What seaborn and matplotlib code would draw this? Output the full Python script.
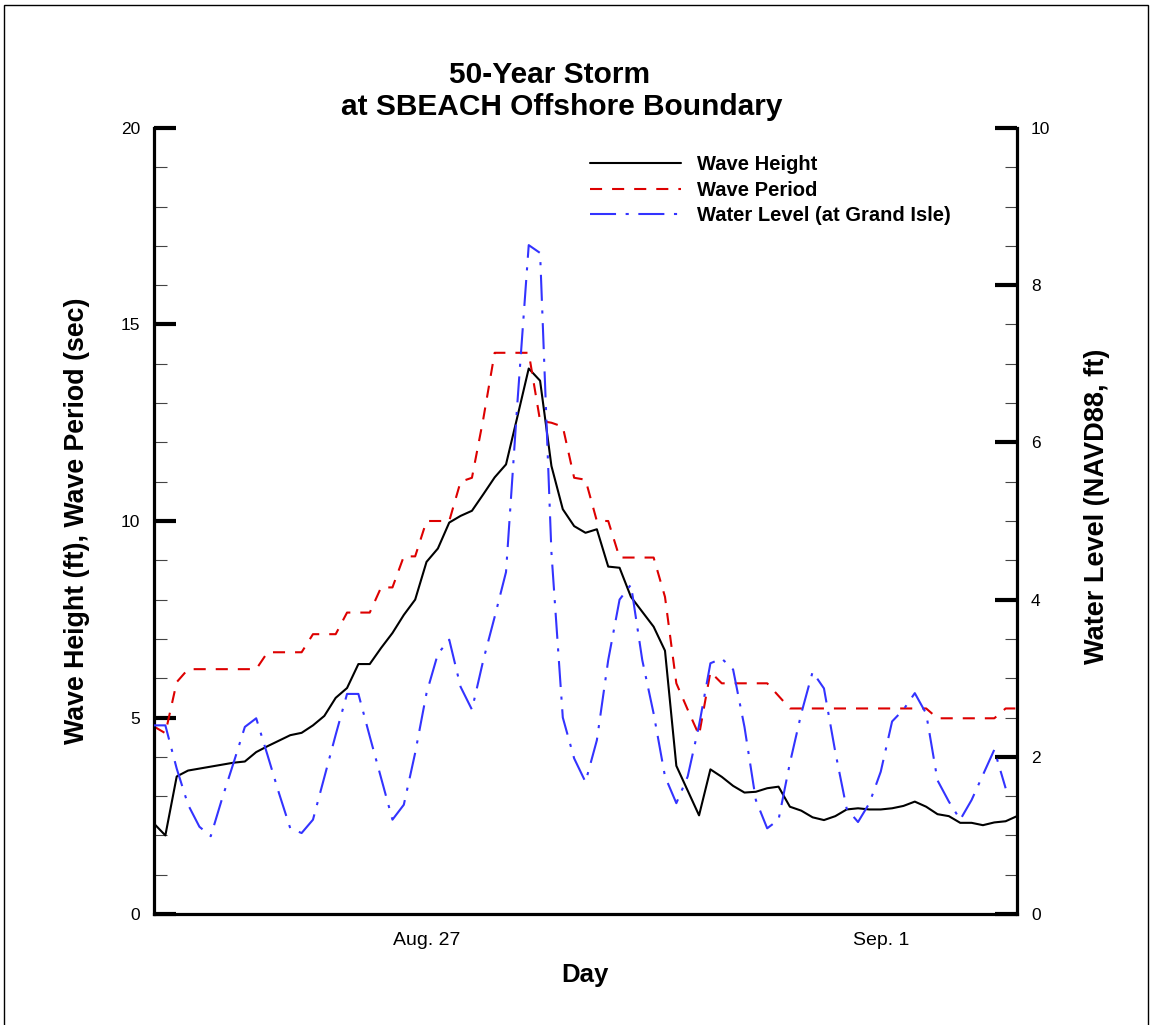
import numpy as np
import pandas as pd
import matplotlib
matplotlib.use("Agg")
import matplotlib.pyplot as plt
from matplotlib.ticker import MultipleLocator
from matplotlib.patches import Rectangle
import seaborn as sns

# 3-hourly storm record starting at 00:00, Aug. 24
step_hours = 3

wave_height = [  # ft
    2.30, 2.00, 3.50, 3.65, 3.70, 3.75, 3.80, 3.85, 3.88, 4.12,
    4.27, 4.41, 4.55, 4.61, 4.80, 5.04, 5.50, 5.75, 6.36, 6.36,
    6.77, 7.15, 7.61, 8.00, 8.96, 9.30, 9.96, 10.13, 10.26, 10.68,
    11.11, 11.44, 12.65, 13.88, 13.57, 11.40, 10.30, 9.87, 9.70, 9.79,
    8.84, 8.81, 8.07, 7.69, 7.31, 6.70, 3.77, 3.14, 2.51, 3.68,
    3.49, 3.26, 3.09, 3.11, 3.20, 3.24, 2.73, 2.63, 2.46, 2.39,
    2.49, 2.66, 2.69, 2.66, 2.66, 2.69, 2.75, 2.86, 2.73, 2.54,
    2.49, 2.32, 2.32, 2.26, 2.33, 2.36, 2.49,
]

wave_period = [  # sec
    4.77, 4.60, 5.90, 6.23, 6.23, 6.23, 6.23, 6.23, 6.23, 6.23,
    6.66, 6.66, 6.66, 6.66, 7.12, 7.12, 7.12, 7.67, 7.67, 7.67,
    8.31, 8.31, 9.10, 9.10, 10.00, 10.00, 10.00, 11.00, 11.10, 12.60,
    14.28, 14.28, 14.28, 14.28, 12.55, 12.50, 12.40, 11.10, 11.05, 10.00,
    10.00, 9.07, 9.07, 9.07, 9.07, 8.07, 5.87, 5.20, 4.55, 6.16,
    5.87, 5.87, 5.87, 5.87, 5.87, 5.55, 5.23, 5.23, 5.23, 5.23,
    5.23, 5.23, 5.23, 5.23, 5.23, 5.23, 5.23, 5.23, 5.23, 4.98,
    4.98, 4.98, 4.98, 4.98, 4.98, 5.23, 5.23,
]

water_level = [  # ft, NAVD88, Grand Isle
    2.40, 2.40, 1.85, 1.39, 1.11, 0.99, 1.47, 1.92, 2.38, 2.49,
    2.02, 1.54, 1.09, 1.03, 1.20, 1.74, 2.28, 2.80, 2.80, 2.26,
    1.73, 1.20, 1.39, 2.05, 2.81, 3.31, 3.49, 2.89, 2.60, 3.23,
    3.78, 4.35, 6.50, 8.51, 8.41, 4.60, 2.50, 1.98, 1.68, 2.21,
    3.23, 4.00, 4.19, 3.23, 2.55, 1.75, 1.41, 1.75, 2.40, 3.19,
    3.25, 3.11, 2.38, 1.45, 1.09, 1.20, 1.92, 2.55, 3.08, 2.87,
    2.06, 1.34, 1.17, 1.41, 1.81, 2.45, 2.60, 2.81, 2.55, 1.70,
    1.43, 1.20, 1.45, 1.77, 2.09, 1.60,
]

day_ticks = [3, 8]
day_labels = ["Aug. 27", "Sep. 1"]

days = np.arange(len(wave_height)) * step_hours / 24.0
waves = pd.DataFrame({"day": days, "height": wave_height, "period": wave_period})
level = pd.DataFrame({"day": days[:len(water_level)], "level": water_level})

sns.set_style("white")
plt.rcParams["font.family"] = ["Liberation Sans", "DejaVu Sans"]
plt.rcParams["text.color"] = "black"
plt.rcParams["axes.labelcolor"] = "black"
plt.rcParams["xtick.color"] = "black"
plt.rcParams["ytick.color"] = "black"

W, H = 1151, 1025
fig = plt.figure(figsize=(W / 100, H / 100), dpi=100)
x0, x1, y0, y1 = 154, 1017, 128, 914
ax = fig.add_axes([x0 / W, 1 - y1 / H, (x1 - x0) / W, (y1 - y0) / H])
ax2 = ax.twinx()

lw = 1.5
sns.lineplot(data=waves, x="day", y="height", ax=ax, color="black",
             linewidth=lw, legend=False)
sns.lineplot(data=waves, x="day", y="period", ax=ax, color="#dd0000",
             linewidth=lw, linestyle=(0, (5.8, 4.8)), legend=False)
sns.lineplot(data=level, x="day", y="level", ax=ax2, color="#3333ff",
             linewidth=lw, linestyle=(0, (12.5, 4.6, 1.5, 4.6)), legend=False)

h_line, p_line = ax.lines[0], ax.lines[1]
l_line = ax2.lines[0]

ax.set_xlim(0, 9.5)
ax.set_ylim(0, 20)
ax2.set_ylim(0, 10)
ax.set_xlabel("")
ax.set_ylabel("")
ax2.set_ylabel("")

for a in (ax, ax2):
    a.spines["top"].set_visible(False)
ax.spines["right"].set_visible(False)
ax2.spines["left"].set_visible(False)
ax2.spines["bottom"].set_visible(False)
for s in ("left", "bottom"):
    ax.spines[s].set_linewidth(2.3)
    ax.spines[s].set_color("black")
ax2.spines["right"].set_linewidth(2.3)
ax2.spines["right"].set_color("black")

# x axis: labelled days with daily minor ticks
ax.set_xticks(day_ticks)
ax.set_xticklabels(day_labels)
ax.xaxis.set_minor_locator(MultipleLocator(1))
ax.tick_params(axis="x", which="major", direction="in", length=16, width=3,
               labelsize=14, pad=13, top=False, colors="black")
ax.tick_params(axis="x", which="minor", direction="in", length=9, width=0.8,
               color="#444444", top=False)

# left axis
ax.yaxis.set_major_locator(MultipleLocator(5))
ax.yaxis.set_minor_locator(MultipleLocator(1))
ax.tick_params(axis="y", which="major", direction="in", length=16, width=3,
               labelsize=12.5, pad=10, right=False, colors="black")
ax.tick_params(axis="y", which="minor", direction="in", length=9, width=0.8,
               color="#444444", right=False)

# right axis
ax2.yaxis.set_major_locator(MultipleLocator(2))
ax2.yaxis.set_minor_locator(MultipleLocator(0.5))
ax2.tick_params(axis="y", which="major", direction="in", length=16, width=3,
                labelsize=12.5, pad=10, left=False, colors="black")
ax2.tick_params(axis="y", which="minor", direction="in", length=9, width=0.8,
                color="#444444", left=False)

# titles and axis labels
fig.text(550 / W, 1 - 75 / H, "50-Year Storm", ha="center", va="center",
         fontsize=21.5, fontweight="bold")
fig.text(562 / W, 1 - 107 / H, "at SBEACH Offshore Boundary", ha="center",
         va="center", fontsize=21.5, fontweight="bold")
fig.text(77 / W, 1 - 521 / H, "Wave Height (ft), Wave Period (sec)",
         rotation=90, ha="center", va="center", fontsize=19.3, fontweight="bold")
fig.text(1097 / W, 1 - 506 / H, "Water Level (NAVD88, ft)",
         rotation=90, ha="center", va="center", fontsize=19.5, fontweight="bold")
fig.text(585 / W, 1 - 975 / H, "Day", ha="center", va="center",
         fontsize=18.5, fontweight="bold")

leg = ax.legend([h_line, p_line, l_line],
                ["Wave Height", "Wave Period", "Water Level (at Grand Isle)"],
                loc="upper left",
                bbox_to_anchor=((590 - x0) / (x1 - x0), (y1 - 155) / (y1 - y0)),
                frameon=False, borderpad=0, borderaxespad=0,
                handlelength=4.5, handletextpad=0.8, labelspacing=0.33,
                prop={"weight": "bold", "size": 14.5})
leg.remove()
ax2.add_artist(leg)

# outer frame
fig.add_artist(Rectangle((4 / W, -0.02), (1148 - 4) / W, 1 - 5 / H + 0.02,
                         transform=fig.transFigure, fill=False,
                         edgecolor="black", linewidth=1.0))

fig.savefig("out.png", dpi=100)
